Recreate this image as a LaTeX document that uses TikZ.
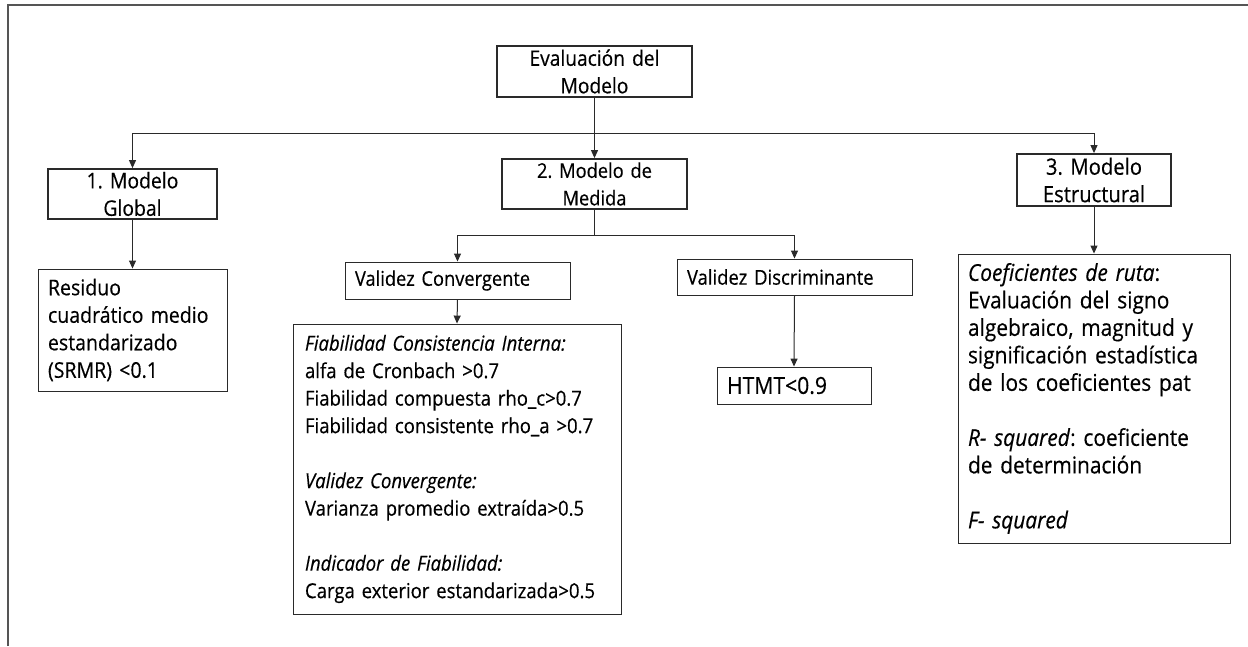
\documentclass[tikz,border=0pt]{standalone}
\usepackage{fontspec}
\setmainfont{Open Sans}[FakeStretch=0.9,FakeBold=0.4]
\usetikzlibrary{arrows.meta}
\definecolor{linec}{HTML}{2A2A2A}
\definecolor{framec}{HTML}{555555}
\tikzset{
  fs/.style={font=\fontsize{#1}{27.5}\selectfont},
  base/.style={draw=linec, fs=20, inner ysep=0pt, anchor=center, text=black},
  thickbox/.style={base, line width=1.8pt, align=center, inner xsep=4pt},
  thinbox/.style={base, line width=0.9pt, align=left, inner xsep=10pt},
  arr/.style={draw=linec, line width=1pt, -{Triangle[length=8pt,width=7pt]}},
  conn/.style={draw=linec, line width=1pt},
  framel/.style={draw=framec, line width=1.6pt},
}
\frenchspacing
\begin{document}
\begin{tikzpicture}[x=1pt,y=-1pt]
\useasboundingbox (0,0) rectangle (1248,646);
% frame
\coordinate (fl) at (8,646);
\coordinate (fc) at (8,5);
\coordinate (fr) at (1248,5);
\draw[framel] (fl) -- (fc) -- (fr);
% top
\node[thickbox, fs=21.3, text width=187pt, minimum height=51pt] (top) at (594.5,71.5) {Evaluación del\\Modelo};
\node[thickbox, fs=21.5, text width=161pt, minimum height=50pt] (m1) at (132.5,194) {1.~Modelo\\Global};
\node[thickbox, fs=20.3, text width=177pt, minimum height=50pt] (m2) at (594.5,184) {2.~Modelo de\\Medida};
\node[thickbox, fs=22.5, text width=146pt, minimum height=52pt] (m3) at (1094,180) {3.~Modelo\\Estructural};
% second level
\node[thinbox, fs=21.7, text width=169pt, minimum height=122pt] (res) at (132.5,330)
  {Residuo\\cuadrático medio\\estandarizado\\(SRMR) {<}0.1};
\node[thinbox, fs=20.3, text width=205pt, minimum height=37pt] (vc) at (457.5,280.5) {Validez Convergente};
\node[thinbox, fs=20.5, text width=215pt, minimum height=36pt] (vd) at (794.5,277) {Validez Discriminante};
\node[thinbox, fs=20.6, inner xsep=12pt, text width=304pt, minimum height=290pt] (big) at (457,469)
  {\textit{Fiabilidad Consistencia Interna:}\\
   alfa de Cronbach {>}0.7\\
   Fiabilidad compuesta rho\_c{>}0.7\\
   Fiabilidad consistente rho\_a {>}0.7\\[27.5pt]
   \textit{Validez Convergente:}\\
   Varianza promedio extraída{>}0.5\\[27.5pt]
   \textit{Indicador de Fiabilidad:}\\
   Carga exterior estandarizada{>}0.5};
\node[thinbox, fs=23.5, text width=134pt, minimum height=37pt] (htmt) at (794,385.5) {HTMT{<}0.9};
\node[thinbox, fs=23.2, text width=252pt, minimum height=289pt] (est) at (1094,398.5)
  {\textit{Coeficientes de ruta}:\\
   Evaluación del signo\\
   algebraico, magnitud y\\
   significación estadística\\
   de los coeficientes pat\\[27.5pt]
   \textit{R- squared}: coeficiente\\
   de determinación\\[27.5pt]
   \textit{F- squared}};
% connectors
\coordinate (j1) at (594.5,133);
\coordinate (j2) at (594.5,235);
\draw[arr] (top.south) -- (m2.north);
\draw[arr] (j1) -| (m1.north);
\draw[arr] (j1) -| (m3.north);
\draw[arr] (m1.south) -- (res.north);
\draw[conn] (m2.south) -- (j2);
\draw[arr] (j2) -| (vc.north);
\draw[arr] (j2) -| (vd.north);
\draw[arr] (vc.south) -- (big.north);
\draw[arr] (vd.south) -- (htmt.north);
\draw[arr] (m3.south) -- (est.north);
\end{tikzpicture}
\end{document}
